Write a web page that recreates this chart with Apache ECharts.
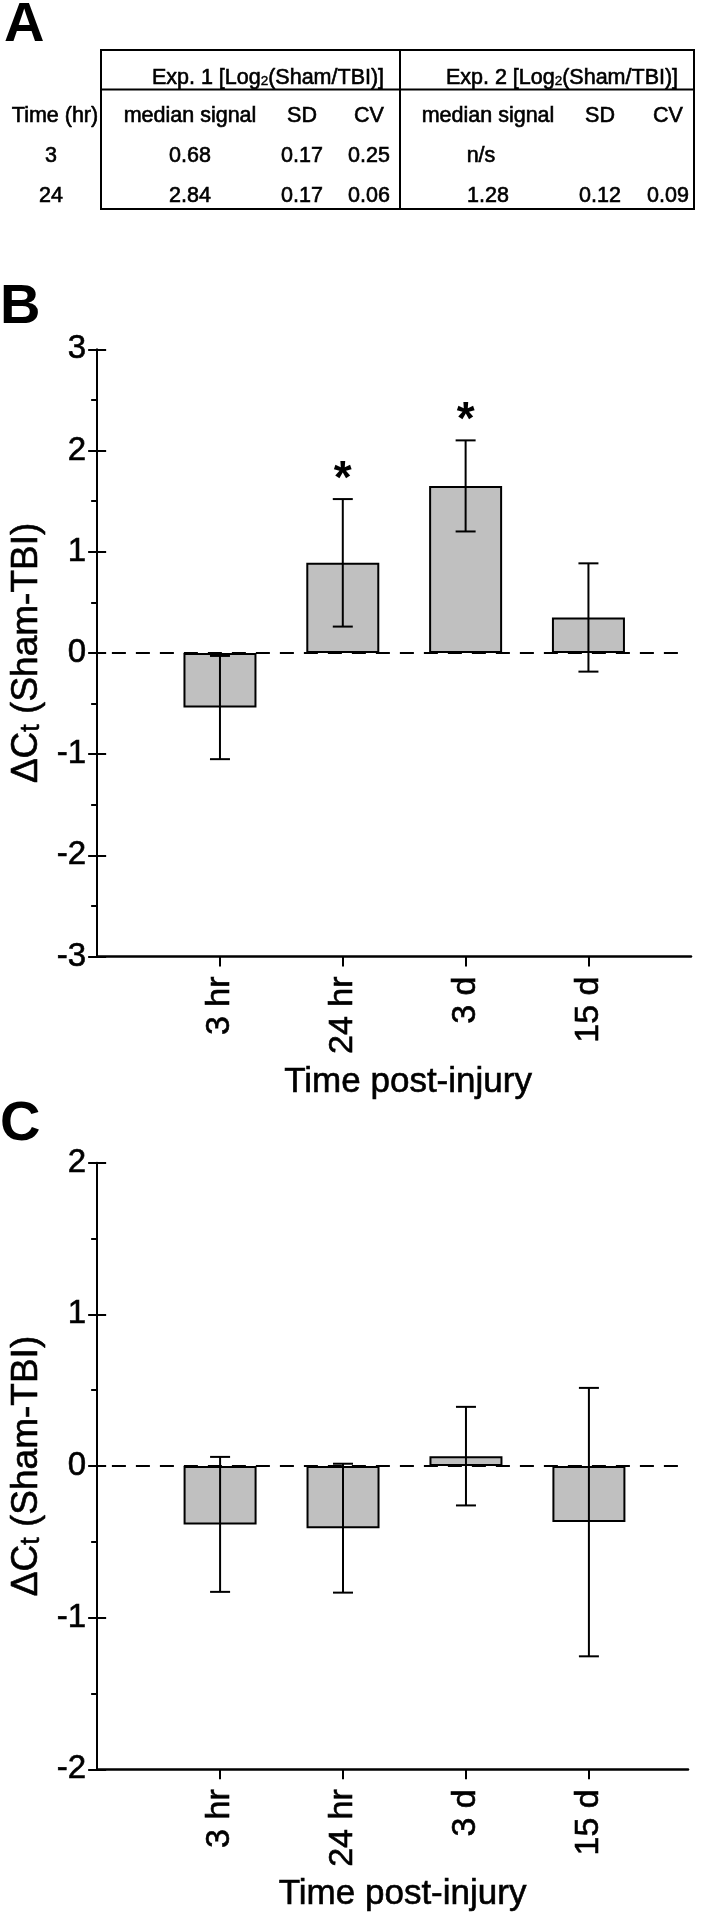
<!DOCTYPE html>
<html><head><meta charset="utf-8">
<script src="https://cdn.jsdelivr.net/npm/echarts@6/dist/echarts.min.js"></script>
<style>html,body{margin:0;padding:0;background:#fff}#chart{width:704px;height:1920px}</style>
</head><body><div id="chart"></div>
<script>
// ---------- data ----------
const categories = ['3 hr', '24 hr', '3 d', '15 d'];
const bMeans = [-0.54, 0.89, 1.65, 0.35];
const bErrors = [0.51, 0.63, 0.45, 0.535];
const bStars = ['', '*', '*', ''];
const cMeans = [-0.385, -0.41, 0.065, -0.37];
const cErrors = [0.445, 0.425, 0.325, 0.885];

const tableTimes = ['3', '24'];
const exp1Median = ['0.68', '2.84'];
const exp1SD = ['0.17', '0.17'];
const exp1CV = ['0.25', '0.06'];
const exp2Median = ['n/s', '1.28'];
const exp2SD = ['', '0.12'];
const exp2CV = ['', '0.09'];
const tableColumns = ['median signal', 'SD', 'CV'];

// ---------- styling ----------
const FF = '"Liberation Sans", Arial, Helvetica, sans-serif';
const SW = 0.6; // slight text stroke to mimic the heavier type of the original
const chart = echarts.init(document.getElementById('chart'), null, {renderer: 'canvas'});

// ---------- table (panel A) ----------
const graphics = [];
const TF = 21.5;
function addText(x, y, text, size, extra) {
  graphics.push({
    type: 'text', x: x, y: y, silent: true,
    style: Object.assign({
      text: text, fill: '#000', font: size + 'px ' + FF,
      stroke: '#000', lineWidth: SW,
      textAlign: 'center', align: 'center',
      textVerticalAlign: 'middle', verticalAlign: 'middle'
    }, extra || {})
  });
}
function addLine(x1, y1, x2, y2, w) {
  graphics.push({type: 'line', silent: true, shape: {x1, y1, x2, y2}, style: {stroke: '#000', lineWidth: w || 2}});
}
const T = {left: 101, right: 694, mid: 400, top: 50, hdr: 89.5, bottom: 209};
graphics.push({type: 'rect', silent: true, shape: {x: T.left, y: T.top, width: T.right - T.left, height: T.bottom - T.top},
  style: {fill: 'none', stroke: '#000', lineWidth: 2}});
addLine(T.left, T.hdr, T.right, T.hdr, 2);
addLine(T.mid, T.top, T.mid, T.bottom, 2);

const richHdr = {
  n: {fontSize: TF, fontFamily: FF, lineHeight: TF, fill: '#000', stroke: '#000', lineWidth: SW},
  s: {fontSize: 13.5, fontFamily: FF, lineHeight: 8, verticalAlign: 'bottom', fill: '#000', stroke: '#000', lineWidth: SW * 0.7}
};
['1', '2'].forEach((k, i) => {
  graphics.push({type: 'text', x: i === 0 ? 268 : 562, y: 78, silent: true,
    style: {text: '{n|Exp. ' + k + ' [Log}{s|2}{n|(Sham/TBI)]}', rich: richHdr,
      textAlign: 'center', align: 'center', textVerticalAlign: 'middle', verticalAlign: 'middle'}});
});
const rowY = [116.5, 156.5, 196.5];
const colX1 = [190, 302, 369];
const colX2 = [488, 600, 668];
addText(55, rowY[0], 'Time (hr)', TF);
tableColumns.forEach((c, j) => { addText(colX1[j], rowY[0], c, TF); addText(colX2[j], rowY[0], c, TF); });
tableTimes.forEach((t, i) => {
  const y = rowY[i + 1];
  addText(51, y, t, TF);
  [exp1Median, exp1SD, exp1CV].forEach((arr, j) => addText(colX1[j], y, arr[i], TF));
  [exp2Median, exp2SD, exp2CV].forEach((arr, j) => { if (arr[i]) addText(colX2[j] - (arr[i] === 'n/s' ? 7 : 0), y, arr[i], TF); });
});

// panel letters
[['A', 4, 25.6], ['B', 0, 307.6], ['C', 0, 1124.6]].forEach(([l, x, y]) => {
  graphics.push({type: 'text', x: x, y: y, silent: true,
    style: {text: l, fill: '#000', font: 'bold 56px ' + FF, textAlign: 'left', align: 'left',
      textVerticalAlign: 'middle', verticalAlign: 'middle'}});
});

// ---------- axes helpers ----------
function xAxisDef(gridIndex, max, namePad) {
  return {
    type: 'value', gridIndex: gridIndex, min: 0, max: max, interval: 1,
    axisLine: {show: true, onZero: false, lineStyle: {color: '#000', width: 2.5}},
    axisTick: {show: true, length: 10, inside: false, customValues: [1, 2, 3, 4], lineStyle: {color: '#000', width: 2}},
    axisLabel: {show: true, rotate: 90, margin: 20, customValues: [1, 2, 3, 4], color: '#000', fontSize: 34, fontFamily: FF,
      textBorderColor: '#000', textBorderWidth: SW,
      formatter: v => categories[Math.round(v) - 1] || ''},
    splitLine: {show: false},
    name: 'Time post-injury', nameLocation: 'middle', nameGap: 108,
    nameTextStyle: {color: '#000', fontSize: 35, fontFamily: FF, padding: [0, 0, 0, namePad],
      textBorderColor: '#000', textBorderWidth: SW}
  };
}
function yAxisMain(gridIndex, min, max) {
  return {
    type: 'value', gridIndex: gridIndex, min: min, max: max, interval: 1, position: 'left',
    axisLine: {show: true, onZero: false, lineStyle: {color: '#000', width: 2}},
    axisTick: {show: true, length: 9, inside: false, lineStyle: {color: '#000', width: 2}},
    minorTick: {show: true, splitNumber: 2, length: 6, lineStyle: {color: '#000', width: 2}},
    axisLabel: {show: true, margin: 11, color: '#000', fontSize: 33, fontFamily: FF,
      textBorderColor: '#000', textBorderWidth: SW},
    splitLine: {show: false}, minorSplitLine: {show: false},
    name: '{a|ΔC}{s|t}{a| (Sham-TBI)}', nameLocation: 'middle', nameGap: 36, nameRotate: 90,
    nameTextStyle: {
      rich: {
        a: {fontSize: 37, fontFamily: FF, color: '#000', lineHeight: 37, textBorderColor: '#000', textBorderWidth: SW},
        s: {fontSize: 27, fontFamily: FF, color: '#000', lineHeight: 21, verticalAlign: 'bottom', textBorderColor: '#000', textBorderWidth: SW}
      }
    }
  };
}
function yAxisOverlay(gridIndex, min, max) {
  return {
    type: 'value', gridIndex: gridIndex, min: min, max: max, interval: 1, position: 'left',
    axisLine: {show: false, onZero: false},
    axisTick: {show: true, length: 9, inside: true, lineStyle: {color: '#000', width: 2}},
    axisLabel: {show: false}, splitLine: {show: false}
  };
}

function errRender(means, errs, stars) {
  return function (params, api) {
    const i = params.dataIndex;
    const x = api.value(0), m = api.value(1), e = api.value(2);
    const hi = api.coord([x, m + e]);
    const lo = api.coord([x, m - e]);
    const st = {stroke: '#000', lineWidth: 2};
    const ch = [
      {type: 'line', shape: {x1: hi[0], y1: hi[1], x2: lo[0], y2: lo[1]}, style: st},
      {type: 'line', shape: {x1: hi[0] - 10, y1: hi[1], x2: hi[0] + 10, y2: hi[1]}, style: st},
      {type: 'line', shape: {x1: lo[0] - 10, y1: lo[1], x2: lo[0] + 10, y2: lo[1]}, style: st}
    ];
    if (stars && stars[i]) {
      ch.push({type: 'text', style: {text: stars[i], x: hi[0], y: hi[1] - 19, fill: '#000',
        font: 'bold 46px ' + FF, textAlign: 'center', align: 'center', textVerticalAlign: 'middle', verticalAlign: 'middle'}});
    }
    return {type: 'group', children: ch};
  };
}

function zeroLine(xEnd) {
  return {silent: true, symbol: ['none', 'none'], label: {show: false},
    lineStyle: {color: '#000', type: [14, 10], width: 2},
    data: [[{coord: [0.12, 0]}, {coord: [xEnd, 0]}]], animation: false};
}

const barStyle = {color: '#c0c0c0', borderColor: '#000', borderWidth: 2};

const option = {
  animation: false,
  backgroundColor: '#fff',
  textStyle: {fontFamily: FF},
  graphic: graphics,
  grid: [
    {left: 93, top: 349.3, width: 598, height: 607.2, containLabel: false},
    {left: 93, top: 1162.7, width: 595, height: 606.6, containLabel: false}
  ],
  xAxis: [xAxisDef(0, 4.835, 28), xAxisDef(1, 4.806, 20)],
  yAxis: [yAxisMain(0, -3, 3), yAxisOverlay(0, -3, 3), yAxisMain(1, -2, 2), yAxisOverlay(1, -2, 2)],
  series: [
    {type: 'bar', xAxisIndex: 0, yAxisIndex: 0, barWidth: 73, itemStyle: barStyle,
      data: bMeans.map((v, i) => [i + 1, v]), markLine: zeroLine(4.78), z: 2},
    {type: 'custom', xAxisIndex: 0, yAxisIndex: 0, renderItem: errRender(bMeans, bErrors, bStars),
      encode: {x: 0, y: 1}, data: bMeans.map((v, i) => [i + 1, v, bErrors[i]]), z: 5},
    {type: 'bar', xAxisIndex: 1, yAxisIndex: 2, barWidth: 73, itemStyle: barStyle,
      data: cMeans.map((v, i) => [i + 1, v]), markLine: zeroLine(4.78), z: 2},
    {type: 'custom', xAxisIndex: 1, yAxisIndex: 2, renderItem: errRender(cMeans, cErrors, null),
      encode: {x: 0, y: 1}, data: cMeans.map((v, i) => [i + 1, v, cErrors[i]]), z: 5}
  ]
};
chart.setOption(option);
</script>
</body></html>
